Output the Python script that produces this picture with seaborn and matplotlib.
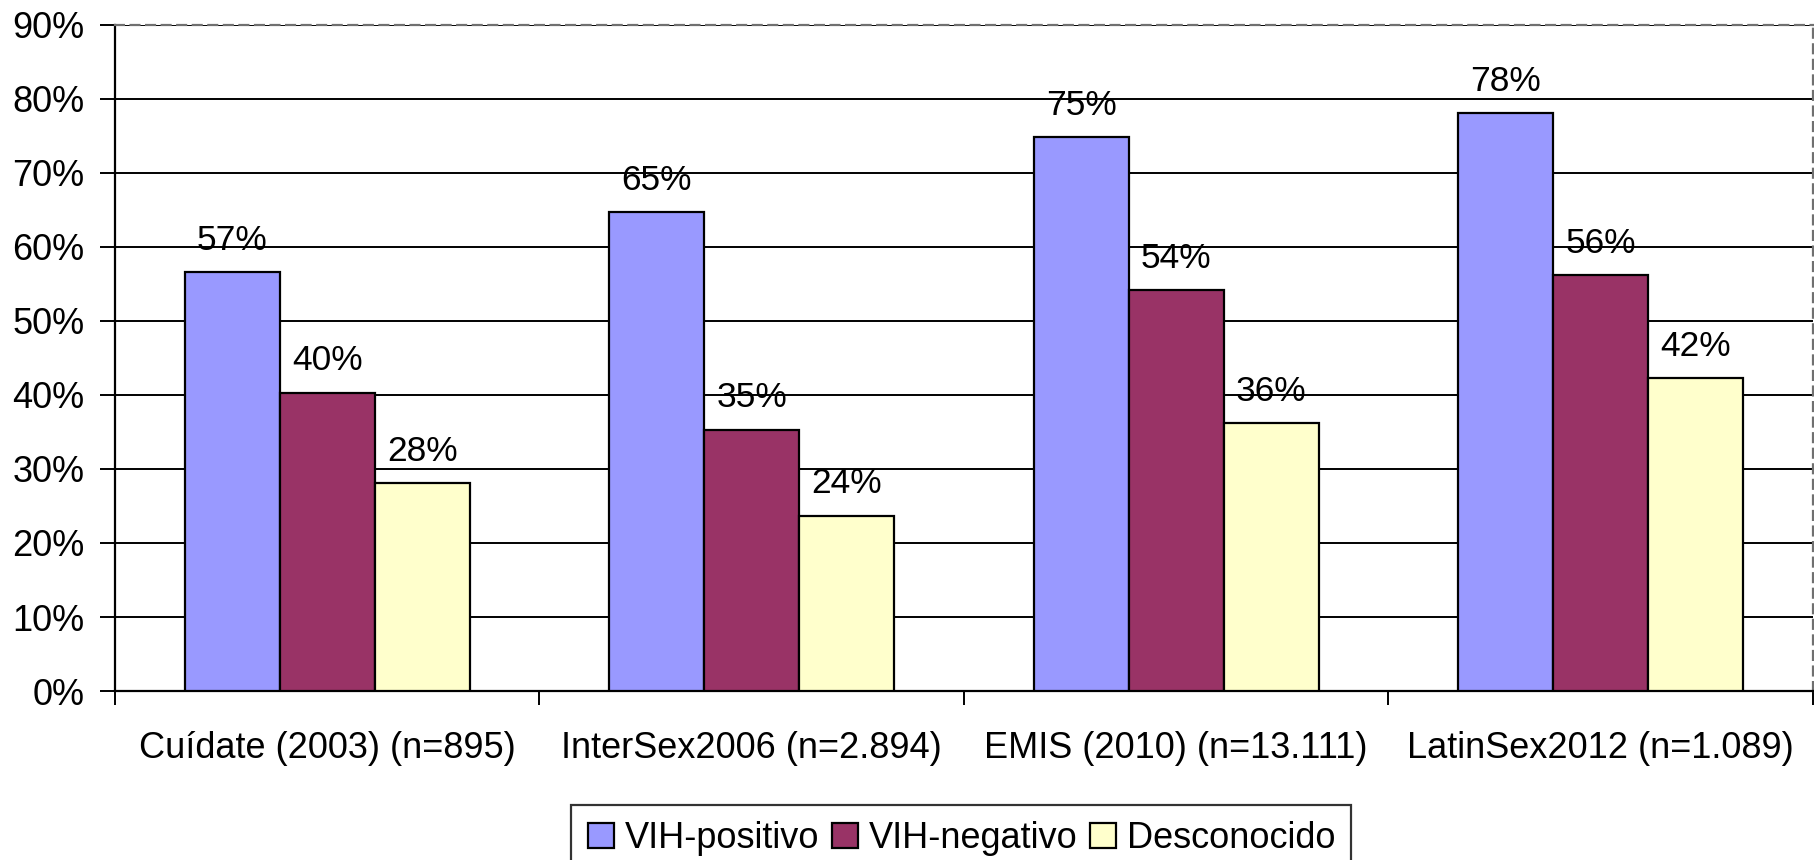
import pandas as pd
import seaborn as sns
import numpy as np
import matplotlib.pyplot as plt

# Data
estudios = ['Cuídate (2003) (n=895)', 'InterSex2006 (n=2.894)',
            'EMIS (2010) (n=13.111)', 'LatinSex2012 (n=1.089)']
grupos = ['VIH-positivo', 'VIH-negativo', 'Desconocido']
vih_positivo = [56.6, 64.7, 74.8, 78.1]
vih_negativo = [40.3, 35.3, 54.2, 56.2]
desconocido = [28.1, 23.7, 36.2, 42.3]
colores = ['#9999FF', '#993366', '#FFFFCC']

# long format for seaborn
df_long = pd.DataFrame({
    'estudio': estudios * 3,
    'grupo': [g for g in grupos for _ in estudios],
    'pct': vih_positivo + vih_negativo + desconocido,
})

sns.set_style('white')
plt.rcParams['font.family'] = ['Liberation Sans', 'DejaVu Sans']
plt.rcParams['text.color'] = 'black'
plt.rcParams['xtick.color'] = 'black'
plt.rcParams['ytick.color'] = 'black'
plt.rcParams['xtick.labelcolor'] = 'black'
plt.rcParams['ytick.labelcolor'] = 'black'

fig = plt.figure(figsize=(18.14, 8.6), dpi=100)
ax = fig.add_axes([0.0634, 0.1965, 0.936, 0.7745])

sns.barplot(data=df_long, x='estudio', y='pct', hue='grupo', hue_order=grupos,
            palette=colores, width=0.672, gap=0, edgecolor='black',
            linewidth=1.6, saturation=1, ax=ax, zorder=3)

for cont in ax.containers:
    ax.bar_label(cont, labels=[f'{round(v)}%' for v in cont.datavalues],
                 padding=11, fontsize=25.5, color='black')

ax.set_ylim(0, 90)
ax.set_xlim(-0.5, 3.5)
ax.set_yticks(np.arange(0, 91, 10))
ax.set_yticklabels([f'{v}%' for v in range(0, 91, 10)], fontsize=26)
ax.yaxis.grid(True, color='black', linewidth=1.4)
ax.set_axisbelow(True)

ax.set_xticks(range(len(estudios)))
ax.set_xticklabels(estudios, fontsize=26)
ax.set_xticks(np.arange(-0.5, 4, 1), minor=True)
ax.tick_params(axis='x', which='major', length=0, pad=29)
ax.tick_params(axis='x', which='minor', length=10, width=1.4, color='black',
               direction='out', bottom=True)
ax.tick_params(axis='y', length=11, width=1.4, color='black',
               direction='out', left=True, pad=11)
ax.set_xlabel('')
ax.set_ylabel('')

for side in ['left', 'bottom']:
    ax.spines[side].set_color('black')
    ax.spines[side].set_linewidth(1.6)
for side in ['top', 'right']:
    ax.spines[side].set_color('#707070')
    ax.spines[side].set_linestyle((0, (4, 3)))
    ax.spines[side].set_linewidth(1.6)

ax.legend_.remove()
handles = [plt.Rectangle((0, 0), 1, 1, facecolor=c, edgecolor='black', linewidth=1.6)
           for c in colores]
leg = fig.legend(handles, grupos, loc='upper center', bbox_to_anchor=(0.53, 0.064),
                 ncol=3, fontsize=26, frameon=True, fancybox=False, shadow=False,
                 edgecolor='black', handlelength=0.72, handleheight=0.72,
                 handletextpad=0.3, columnspacing=0.35, borderpad=0.45,
                 borderaxespad=0)
leg.get_frame().set_linewidth(1.6)

plt.savefig('out.png', dpi=100)
